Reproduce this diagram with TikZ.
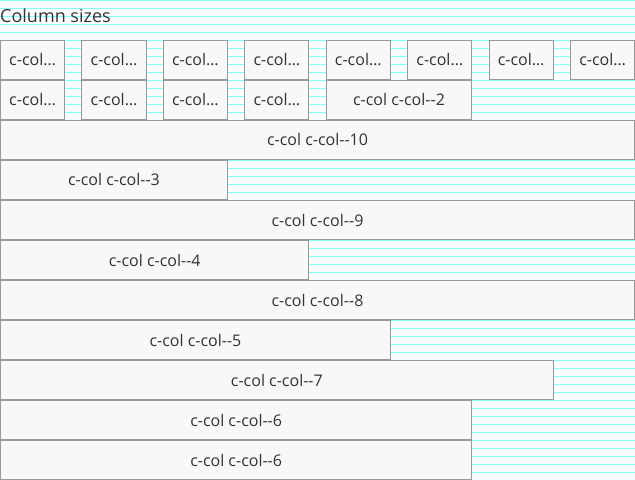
\documentclass[tikz,border=0pt]{standalone}
\usepackage{fontspec}
\setmainfont{Open Sans}
\definecolor{gridline}{HTML}{80FFFF}
\definecolor{boxborder}{HTML}{999999}
\definecolor{boxfill}{HTML}{F8F8F8}
\definecolor{txt}{HTML}{333333}
\newcommand{\dd}{-{}-}
\begin{document}
\begin{tikzpicture}[x=1bp,y=-1bp,
  colbox/.style={draw=boxborder,fill=boxfill,line width=1bp,inner sep=0pt,outer sep=0pt,
    minimum height=39bp,text=txt,font=\fontsize{16bp}{19bp}\selectfont,anchor=north west},
  span/.style={colbox,minimum width={(#1*81.43-17.29)*1bp}},
  titletext/.style={text=txt,font=\fontsize{18bp}{22bp}\selectfont,inner sep=0pt,anchor=base west}]
\useasboundingbox (0,0) rectangle (635,480);
\fill[white] (0,0) rectangle (635,480);
\foreach \k in {0,...,59} \draw[gridline,line width=1bp] (0,8*\k+0.5) -- (635,8*\k+0.5);
\node[titletext] (title) at (0,22.3) {Column sizes};
% row 1: eight c-col--1
\foreach \i in {0,...,7}
  \node[span=1] (r1c\i) at ({81.43*\i+0.5},40.5) {c-col\ldots};
% row 2: four c-col--1 then c-col--2
\foreach \i in {0,...,3}
  \node[span=1] (r2c\i) at ({81.43*\i+0.5},80.5) {c-col\ldots};
\node[span=2] (r2c4) at (326.22,80.5) {c-col c-col\dd2};
% remaining rows
\node[colbox,minimum width=634bp] (c10) at (0.5,120.5) {c-col c-col\dd10};
\node[span=3] (c3) at (0.5,160.5) {c-col c-col\dd3};
\node[colbox,minimum width=634bp] (c9) at (0.5,200.5) {c-col c-col\dd9};
\node[span=4] (c4) at (0.5,240.5) {c-col c-col\dd4};
\node[colbox,minimum width=634bp] (c8) at (0.5,280.5) {c-col c-col\dd8};
\node[span=5] (c5) at (0.5,320.5) {c-col c-col\dd5};
\node[span=7] (c7) at (0.5,360.5) {c-col c-col\dd7};
\node[span=6] (c6a) at (0.5,400.5) {c-col c-col\dd6};
\node[span=6] (c6b) at (0.5,440.5) {c-col c-col\dd6};
\end{tikzpicture}
\end{document}
